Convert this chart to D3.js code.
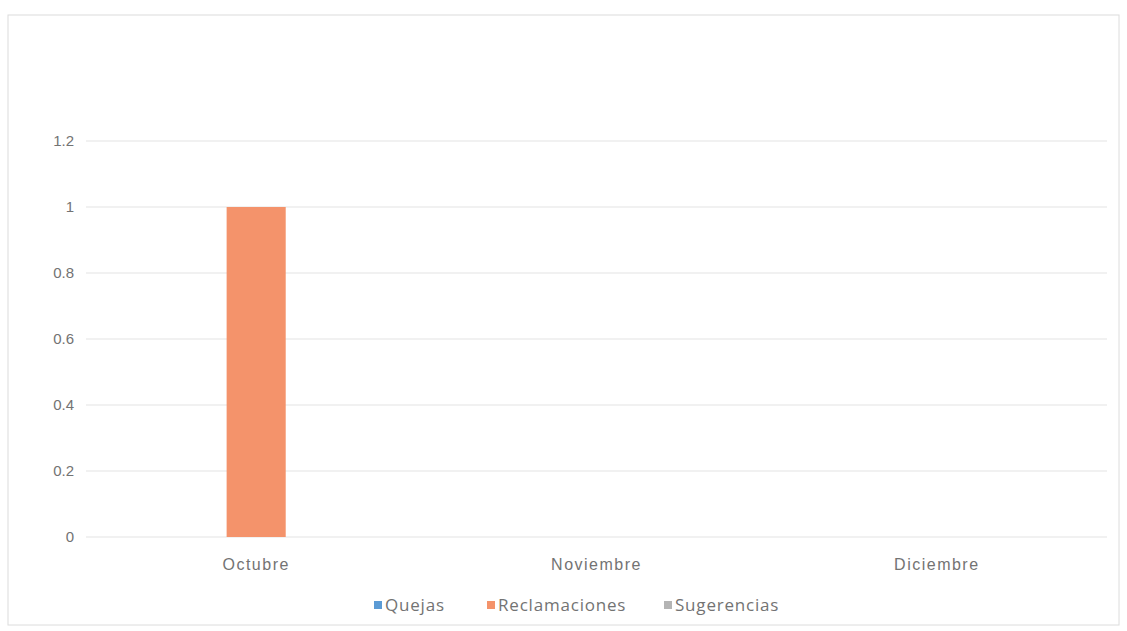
<!DOCTYPE html>
<html>
<head>
    <meta charset="utf-8">
    <style>
        body { margin: 0; background: white; }
        svg { display: block; font-family: 'Open Sans', 'Noto Sans', sans-serif; }
        .tick text { fill: #737373; font-size: 15px; }
        .xaxis .tick text { font-size: 16px; letter-spacing: 1.5px; }
    </style>
</head>
<body>
<svg id="chart" width="1127" height="631"></svg>
<script src="https://d3js.org/d3.v7.min.js"></script>
<script>
    // datos
    let meses = ["Octubre", "Noviembre", "Diciembre"]
    let series = ["Quejas", "Reclamaciones", "Sugerencias"]
    let quejas = [0, 0, 0]
    let reclamaciones = [1, 0, 0]
    let sugerencias = [0, 0, 0]
    let yTicks = [0, 0.2, 0.4, 0.6, 0.8, 1, 1.2]
    let colores = ["#5b9bd5", "#f4936b", "#b4b4b4"]

    let valores = [quejas, reclamaciones, sugerencias]
    let svg = d3.select("#chart")

    // marco
    svg.append("rect")
        .attr("x", 8).attr("y", 15)
        .attr("width", 1111).attr("height", 610)
        .attr("fill", "none")
        .attr("stroke", "#dcdcdc")

    let x = d3.scaleBand().domain(meses).range([86, 1107])
    let xs = d3.scaleBand().domain(series).range([0, x.bandwidth()]).paddingInner(0).paddingOuter(1.38)
    let y = d3.scaleLinear().domain([0, 1.2]).range([537, 141])

    // grid
    svg.append("g")
        .selectAll("line")
        .data(yTicks)
        .join("line")
        .attr("x1", 86).attr("x2", 1107)
        .attr("y1", d => y(d)).attr("y2", d => y(d))
        .attr("stroke", "#e3e3e3")
        .attr("stroke-width", 1.2)

    let yAxis = svg.append("g")
        .attr("transform", "translate(77,0)")
        .call(d3.axisLeft(y).tickValues(yTicks).tickSize(0).tickFormat(d => d3.format("")(+d.toFixed(1))))
    yAxis.select(".domain").remove()

    let xAxis = svg.append("g")
        .attr("class", "xaxis")
        .attr("transform", "translate(0,556)")
        .call(d3.axisBottom(x).tickSize(0))
    xAxis.select(".domain").remove()
    xAxis.selectAll("text").attr("dy", "0.7em")

    // barras
    let grupos = svg.append("g")
        .selectAll("g")
        .data(meses)
        .join("g")
        .attr("transform", d => "translate(" + x(d) + ",0)")

    grupos.selectAll("rect")
        .data((m, i) => series.map((s, j) => ({serie: s, valor: valores[j][i], color: colores[j]})))
        .join("rect")
        .attr("x", d => xs(d.serie))
        .attr("width", xs.bandwidth())
        .attr("y", d => y(d.valor))
        .attr("height", d => y(0) - y(d.valor))
        .attr("fill", d => d.color)

    // leyenda
    let legX = [374, 487, 664]
    let leyenda = svg.append("g")
        .selectAll("g")
        .data(series)
        .join("g")
        .attr("transform", (d, i) => "translate(" + legX[i] + ",605)")
    leyenda.append("rect")
        .attr("x", 0).attr("y", -4)
        .attr("width", 8).attr("height", 8)
        .attr("fill", (d, i) => colores[i])
    leyenda.append("text")
        .attr("x", 11).attr("y", 0)
        .attr("dy", "0.35em")
        .attr("fill", "#737373")
        .style("font-size", "17px")
        .style("letter-spacing", "0.8px")
        .text(d => d)
</script>
</body>
</html>
